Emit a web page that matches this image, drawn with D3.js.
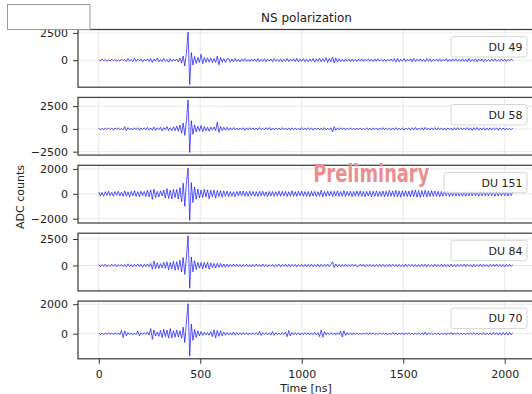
<!DOCTYPE html>
<html>
<head>
<meta charset="utf-8">
<script src="https://cdn.jsdelivr.net/npm/d3@7"></script>
<style>
  body { margin: 0; background: #fff; }
  svg { display: block; font-family: "DejaVu Sans", sans-serif; }
</style>
</head>
<body>
<svg id="chart" width="532" height="394"></svg>
<script>
// station labels, one panel each
const stations = ["DU 49", "DU 58", "DU 151", "DU 84", "DU 70"];
// sample spacing of the traces below [ns]
const sampleStep = 8;
const recordEnd = 2047;

// NS-polarization traces [ADC counts], one value per 8 ns
const du49 = [
  60,-80,110,-50,90,-120,40,-70,100,-60,80,-110,50,-90,120,-40,
  70,-130,150,-90,60,-140,180,-110,90,-60,130,-170,100,-80,140,-120,
  160,-200,120,-90,210,-150,80,-130,170,-100,60,-180,140,-110,90,-70,
  110,-150,200,-260,380,-520,700,2569,-2224,700,-450,350,-300,250,-200,550,
  -320,250,-200,220,-180,200,-210,160,-190,380,-420,250,-180,150,-200,130,
  140,-190,120,-150,170,-110,90,-160,130,-100,150,-120,80,-140,110,-90,
  120,-100,150,-130,90,-110,140,-160,100,-80,120,-140,160,-90,70,-120,
  130,-150,90,-110,170,-130,100,-90,140,-120,180,-160,110,-100,150,-130,
  90,-140,120,-100,160,-180,130,-110,200,-150,140,-120,240,-200,170,-130,
  300,-260,220,-180,150,-120,100,-140,130,-90,110,-150,120,-100,80,-130,
  110,-90,140,-120,100,-80,130,-110,90,-140,120,-100,150,-90,70,-110,
  100,-130,90,-70,120,-100,140,-160,180,-130,110,-90,150,-120,100,-80,
  130,-150,170,-120,100,-90,140,-110,80,-130,160,-100,120,-140,90,-70,
  110,-100,130,-120,90,-80,150,-130,100,-110,140,-90,120,-100,80,-120,
  140,-110,100,-130,170,-120,90,-100,130,-150,110,-80,120,-140,100,-90,
  80,-120,110,-90,130,-100,70,-110,120,-80,100,-130,90,-70,110,-60
];
const du58 = [
  90,-110,70,-130,100,-60,120,-90,80,-140,110,-70,130,-100,60,-120,
  240,-200,150,-110,90,-130,120,-80,140,-160,100,-90,130,-110,170,-140,
  110,-150,200,-170,130,-90,180,-220,150,-120,260,-200,140,-180,230,-190,
  300,-250,420,-480,650,-720,900,3172,-2592,900,-600,450,-350,300,-250,380,
  -300,250,-220,180,-260,200,-150,220,-190,750,-380,260,-200,170,-150,190,
  -160,130,-110,150,-120,90,-140,110,-80,130,-170,120,-100,140,-90,110,
  -130,100,-120,150,-90,80,-110,130,-100,160,-140,90,-120,110,-80,100,
  -120,140,-100,90,-130,110,-150,120,-90,100,-110,80,-130,150,-100,90,
  -110,130,-90,120,-140,100,-80,110,-130,90,-120,140,-100,80,-110,130,
  -320,250,-160,120,-100,130,-90,110,-140,100,-80,120,-110,90,-130,100,
  -90,110,-120,80,-100,130,-110,90,-140,120,-80,100,-130,110,-90,140,
  -100,120,-90,80,-130,110,-100,140,-120,90,-110,130,-140,100,-80,120,
  -150,130,-110,160,-120,100,-90,130,-140,170,-110,90,-130,120,-100,150,
  -120,140,-90,110,-130,100,-150,120,-100,90,-160,130,-110,140,-90,120,
  -130,110,-100,150,-140,120,-170,130,-110,160,-150,100,-120,140,-160,110,
  -140,120,-100,130,-90,110,-150,120,-80,100,-130,90,-110,70,-100,80
];
const du151 = [
  150,-180,120,-200,170,-140,210,-160,130,-190,180,-120,200,-170,140,-210,
  230,-190,160,-250,200,-170,260,-220,180,-240,210,-150,190,-230,280,-250,
  320,-450,380,-300,200,-260,240,-180,300,-350,420,-380,290,-410,350,-300,
  350,-420,500,-650,850,-1000,950,2079,-2134,900,-700,550,-450,380,-330,300,
  -300,360,-260,320,-400,280,-240,300,-340,260,-220,250,-280,230,-200,220,
  -230,190,-210,170,-240,200,-180,210,-160,220,-190,180,-200,210,-170,190,
  -210,180,-220,200,-170,210,-190,160,-230,200,-180,190,-210,170,-190,220,
  -200,210,-180,190,-220,170,-200,240,-190,180,-210,200,-160,220,-200,180,
  -210,190,-230,200,-180,200,-220,170,-200,280,-240,190,-200,210,-180,200,
  -220,200,-190,240,-210,180,-200,260,-230,200,-180,210,-240,190,-200,220,
  -200,230,-210,190,-240,200,-180,220,-250,210,-200,240,-220,190,-210,230,
  -240,210,-230,260,-200,240,-220,280,-250,230,-270,240,-210,250,-230,220,
  -260,280,-240,300,-270,250,-290,260,-230,280,-250,240,-220,260,-200,230,
  -210,200,-230,190,-200,220,-180,200,-210,170,-190,200,-180,160,-200,180,
  -190,170,-200,160,-180,190,-170,200,-160,180,-190,150,-170,190,-160,180,
  -170,190,-160,180,-200,150,-180,170,-150,190,-160,140,-180,160,-140,150
];
const du84 = [
  100,-120,80,-90,130,-110,70,-100,120,-80,110,-130,90,-70,100,-110,
  90,-130,160,-120,100,-140,120,-90,150,-110,130,-170,110,-100,140,-120,
  200,-350,420,-300,250,-280,180,-220,300,-260,350,-400,280,-320,380,-450,
  350,-400,500,-600,750,-850,800,2802,-2152,800,-600,450,-380,300,-250,280,
  -320,280,-230,300,-350,240,-200,190,-240,210,-180,200,-160,140,-170,130,
  -150,120,-110,140,-100,130,-120,100,-140,110,-90,120,-100,90,-130,110,
  -110,130,-100,90,-120,140,-110,100,-130,90,-80,110,-120,100,-90,130,
  -120,100,-90,130,-110,120,-140,100,-90,110,-130,90,-100,120,-110,100,
  -130,110,-100,140,-120,90,-110,130,-150,120,-100,110,-90,140,-120,100,
  350,-200,150,-130,110,-120,100,-90,130,-110,90,-100,120,-80,110,-100,
  -100,120,-90,110,-130,100,-80,120,-110,90,-120,100,-90,130,-100,110,
  -120,90,-110,130,-100,120,-90,100,-130,110,-100,90,-120,140,-110,100,
  -90,110,-130,100,-120,90,-110,130,-100,120,-140,110,-90,100,-120,130,
  -110,100,-90,120,-130,110,-100,90,-120,140,-110,100,-130,120,-90,110,
  -100,130,-120,110,-90,100,-140,120,-110,90,-100,130,-120,110,-100,90,
  -130,110,-100,120,-90,140,-110,100,-120,90,-130,110,-100,120,-90,80
];
const du70 = [
  50,-60,40,-70,60,-50,70,-40,50,-60,80,-50,60,-70,220,-260,
  200,-150,90,-70,60,-80,50,-60,180,-150,70,-60,80,-50,120,-100,
  350,-380,250,-150,120,-180,220,-260,300,-200,250,-300,350,-280,200,-240,
  250,-220,200,-300,450,-600,800,2032,-1522,650,-450,300,-250,200,-150,150,
  -120,100,-80,90,-110,150,-200,260,-280,220,-180,200,-150,120,-100,90,
  -80,70,-90,120,-100,80,-70,60,-80,90,-60,70,-80,60,-70,80,
  -60,70,-80,160,-120,70,-60,80,-70,60,-90,150,-110,70,-60,50,
  -70,80,-60,90,-200,220,-150,80,-70,60,-80,70,-90,60,-70,80,
  -60,70,-80,60,-70,90,-80,70,-200,260,-230,150,-90,70,-60,80,
  -70,60,-80,70,-60,180,-220,200,-120,80,-70,60,-80,70,-60,50,
  -60,50,-70,60,-50,70,-60,80,-50,60,-70,50,-60,70,-50,60,
  -50,60,-70,50,-60,80,-50,60,-70,50,-60,70,-80,60,-50,70,
  -60,50,-70,60,-50,70,-60,50,-80,110,-90,60,-50,70,-60,50,
  -50,60,-70,50,-60,70,-80,60,-50,90,-70,60,-50,70,-60,50,
  -60,50,-70,60,-50,70,-60,80,-50,60,-70,50,-60,70,-80,60,
  -70,60,-80,90,-60,70,-90,80,-100,90,-70,80,-90,100,-80,70
];
const traces = [du49, du58, du151, du84, du70];

// tick labels
const yTickSets = [
  [-2500, 0, 2500],
  [-2500, 0, 2500],
  [-2000, 0, 2000],
  [-2500, 0, 2500],
  [-2000, 0, 2000]
];
const xTickValues = [0, 500, 1000, 1500, 2000];

const drawWaveforms = (svgId) => {
  const svg = d3.select("#" + svgId);
  const left = 78, right = 535, top0 = 29.5, panelH = 57.7, panelStep = 67.9;

  const pad = (lo, hi) => { const r = hi - lo; return [lo - 0.05 * r, hi + 0.05 * r]; };

  const x = d3.scaleLinear().domain(pad(0, recordEnd)).range([left, right]);

  traces.forEach((trace, k) => {
    const top = top0 + k * panelStep;
    const y = d3.scaleLinear()
      .domain(pad(d3.min(trace), d3.max(trace)))
      .range([top + panelH, top]);
    const yTicks = yTickSets[k].filter((v) => v >= y.domain()[0] && v <= y.domain()[1]);

    const g = svg.append("g");

    // grid
    g.append("g")
      .selectAll("line")
      .data(xTickValues)
      .enter()
      .append("line")
      .attr("x1", (d) => x(d)).attr("x2", (d) => x(d))
      .attr("y1", top).attr("y2", top + panelH)
      .attr("stroke", "#e3e3e3").attr("stroke-width", 0.8);
    g.append("g")
      .selectAll("line")
      .data(yTicks)
      .enter()
      .append("line")
      .attr("x1", left).attr("x2", right)
      .attr("y1", (d) => y(d)).attr("y2", (d) => y(d))
      .attr("stroke", "#e3e3e3").attr("stroke-width", 0.8);

    const line = d3.line()
      .x((d, i) => x(i * sampleStep))
      .y((d) => y(d));
    g.append("path")
      .datum(trace)
      .attr("d", line)
      .attr("fill", "none")
      .attr("stroke", "#0000ff")
      .attr("stroke-width", 0.65)
      .attr("stroke-linejoin", "round");

    // frame
    g.append("rect")
      .attr("x", left).attr("y", top)
      .attr("width", right - left).attr("height", panelH)
      .attr("fill", "none")
      .attr("stroke", "#3f3f3f")
      .attr("stroke-width", 1.25);

    const ya = g.append("g")
      .attr("transform", "translate(" + left + ",0)")
      .call(d3.axisLeft(y).tickValues(yTicks).tickSize(5).tickPadding(5)
        .tickFormat((d) => d < 0 ? "\u2212" + Math.abs(d) : d));
    ya.select(".domain").remove();
    ya.selectAll("line").attr("stroke", "#333");
    ya.selectAll("text").attr("font-size", 11).attr("fill", "#222")
      .attr("font-family", "DejaVu Sans, sans-serif");

    // legend
    const lg = g.append("g");
    const lbox = lg.append("rect");
    const ltxt = lg.append("text")
      .attr("x", 522.5)
      .attr("y", top + 17.3 + 4)
      .attr("text-anchor", "end")
      .attr("font-size", 11)
      .attr("fill", "#222")
      .text(stations[k]);
    const tw = ltxt.node().getComputedTextLength();
    lbox.attr("x", 522.5 - tw - 37.5)
      .attr("y", top + 7.1)
      .attr("width", 527 - (522.5 - tw - 37.5))
      .attr("height", 20.4)
      .attr("rx", 2.5)
      .attr("fill", "#fff").attr("fill-opacity", 0.85)
      .attr("stroke", "#d6d6d6").attr("stroke-width", 1);

    if (k === traces.length - 1) {
      const xa = g.append("g")
        .attr("transform", "translate(0," + (top + panelH) + ")")
        .call(d3.axisBottom(x).tickValues(xTickValues).tickSize(5).tickPadding(6)
          .tickFormat(d3.format("d")));
      xa.select(".domain").remove();
      xa.selectAll("line").attr("stroke", "#333");
      xa.selectAll("text").attr("font-size", 11).attr("fill", "#222")
        .attr("font-family", "DejaVu Sans, sans-serif");
    }
  });

  // labels
  svg.append("text")
    .attr("x", (left + right) / 2).attr("y", 22)
    .attr("text-anchor", "middle")
    .attr("font-size", 12).attr("fill", "#222")
    .text("NS polarization");

  svg.append("text")
    .attr("transform", "translate(23.5,197) rotate(-90)")
    .attr("text-anchor", "middle")
    .attr("font-size", 11).attr("fill", "#222")
    .text("ADC counts");

  svg.append("text")
    .attr("x", (left + right) / 2 - 0.5).attr("y", 391.5)
    .attr("text-anchor", "middle")
    .attr("font-size", 11).attr("fill", "#222")
    .text("Time [ns]");

  svg.append("text")
    .attr("x", 313.3).attr("y", 181.7)
    .attr("font-family", "'Liberation Sans Narrow', 'DejaVu Sans Condensed', sans-serif")
    .attr("font-weight", "bold")
    .attr("font-size", 24)
    .attr("textLength", 116)
    .attr("lengthAdjust", "spacingAndGlyphs")
    .attr("fill", "#ea8f90")
    .text("Preliminary");

  // white box overlapping the top-left corner
  svg.append("rect")
    .attr("x", 7.5).attr("y", 4.5)
    .attr("width", 82.5).attr("height", 25)
    .attr("fill", "#fff")
    .attr("stroke", "#9a9a9a").attr("stroke-width", 1);
};

drawWaveforms("chart");
</script>
</body>
</html>
